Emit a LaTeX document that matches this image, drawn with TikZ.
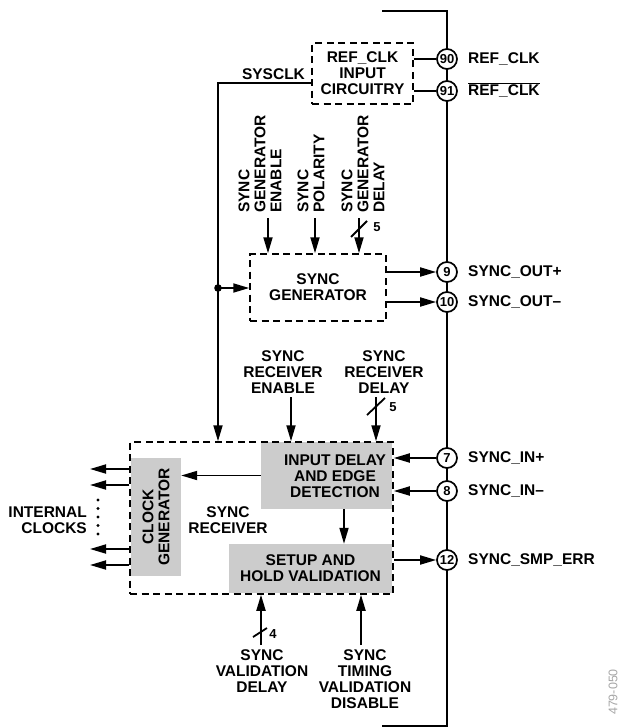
\documentclass[tikz,border=0pt]{standalone}
\usepackage{fontspec}
\setmainfont{Liberation Sans}
\usetikzlibrary{arrows.meta}
\definecolor{boxgray}{RGB}{204,204,204}
\begin{document}
\begin{tikzpicture}[x=1pt,y=-1pt,
  lbl/.style={font=\fontsize{15.5}{16}\selectfont\bfseries, align=center, inner sep=0pt},
  small/.style={font=\fontsize{13}{14}\selectfont\bfseries, inner sep=0pt},
  dbox/.style={draw, line width=1.5pt, dash pattern=on 7pt off 4.5pt},
  gbox/.style={fill=boxgray, inner sep=0pt},
  pin/.style={circle, draw, line width=1.7pt, fill=white, minimum size=20pt, inner sep=0pt, font=\fontsize{13}{13}\selectfont\bfseries},
  wire/.style={line width=1.8pt},
  arr/.style={wire, -{Triangle[length=16pt,width=9pt]}},
  bus/.style={line width=2.8pt},
  rlbl/.style={lbl, rotate=90, anchor=west, align=left},
]
\useasboundingbox (0,0) rectangle (620,728);

% bus
\coordinate (bt0) at (382,11);
\coordinate (bt1) at (447,11);
\coordinate (bb1) at (447,726);
\coordinate (bb0) at (382,726);
\draw[bus] (bt0) -- (bt1) -- (bb1) -- (bb0);

% pins
\node[pin] (p90) at (447,59) {90};
\node[pin] (p91) at (447,91) {91};
\node[pin] (p9) at (447,272) {9};
\node[pin] (p10) at (447,302) {10};
\node[pin] (p7) at (447,458) {7};
\node[pin] (p8) at (447,491) {8};
\node[pin] (p12) at (447,560) {12};

% pin labels
\node[lbl, anchor=base west] (l90) at ([xshift=21pt,yshift=-4pt]p90.center) {REF\_CLK};
\node[lbl, anchor=base west] (l91) at ([xshift=21pt,yshift=-4pt]p91.center) {$\overline{\hbox{REF\_CLK}}$};
\node[lbl, anchor=base west] (l9) at ([xshift=21pt,yshift=-4pt]p9.center) {SYNC\_OUT+};
\node[lbl, anchor=base west] (l10) at ([xshift=21pt,yshift=-4pt]p10.center) {SYNC\_OUT–};
\node[lbl, anchor=base west] (l7) at ([xshift=21pt,yshift=-4pt]p7.center) {SYNC\_IN+};
\node[lbl, anchor=base west] (l8) at ([xshift=21pt,yshift=-4pt]p8.center) {SYNC\_IN–};
\node[lbl, anchor=base west] (l12) at ([xshift=21pt,yshift=-4pt]p12.center) {SYNC\_SMP\_ERR};

% REF_CLK input circuitry
\node[dbox, lbl, minimum width=101pt, minimum height=61pt] (ref) at (362.5,73.5) {REF\_CLK\\INPUT\\CIRCUITRY};
\draw[wire] (ref.east |- p90) -- (p90.west);
\draw[wire] (ref.east |- p91) -- (p91.west);
\node[lbl] (sysclk) at (273.5,74.5) {SYSCLK};

% sync generator
\node[dbox, lbl, minimum width=136pt, minimum height=67pt] (sg) at (318,287.5) {SYNC\\GENERATOR};
\draw[arr] (sg.east |- p9) -- (p9.west);
\draw[arr] (sg.east |- p10) -- (p10.west);

\node[rlbl] (sgen) at (260,213) {SYNC\\GENERATOR\\ENABLE};
\node[rlbl] (spol) at (311,213) {SYNC\\POLARITY};
\node[rlbl] (sgdel) at (363,213) {SYNC\\GENERATOR\\DELAY};
\coordinate (aen) at (268,218);
\coordinate (apol) at (315,218);
\coordinate (adel) at (359,218);
\draw[arr] (aen) -- (aen |- sg.north);
\draw[arr] (apol) -- (apol |- sg.north);
\draw[arr] (adel) -- (adel |- sg.north);
\draw[wire] ([shift={(-8,19)}]adel) -- ([shift={(8,3)}]adel);
\node[small] (n5a) at (377,227) {5};

% sync receiver
\node[gbox, minimum width=131pt, minimum height=67pt] (idet) at (326.5,475.5) {};
\node[lbl] (idett) at (335,476) {INPUT DELAY\\AND EDGE\\DETECTION};
\node[gbox, lbl, minimum width=163pt, minimum height=49pt] (setup) at (310.5,568.5) {SETUP AND\\HOLD VALIDATION};
\node[gbox, minimum width=50pt, minimum height=118pt] (clk) at (156,517) {};
\node[lbl, rotate=90] (clkt) at (156,517) {CLOCK\\GENERATOR};
\node[dbox, minimum width=263pt, minimum height=152pt] (rx) at (261.5,518) {};
\node[lbl] (srx) at (228,520) {SYNC\\RECEIVER};

\draw[arr] (idet.west) -- (idet.west -| clk.east);
\draw[arr] ([xshift=17.5pt]idet.south) -- ([xshift=17.5pt]idet.south |- setup.north);
\draw[arr] (p7.west) -- (p7.west -| rx.east);
\draw[arr] (p8.west) -- (p8.west -| rx.east);
\draw[arr] (rx.east |- p12) -- (p12.west);

% SYSCLK line
\coordinate (sysdot) at (218,288);
\draw[arr] ([yshift=-9.5pt]ref.west) -| (sysdot) -- (sysdot |- rx.north);
\fill (sysdot) circle (3.8pt);
\draw[arr] (sysdot) -- (sysdot -| sg.west);

% receiver controls
\node[lbl] (sre) at (283,372) {SYNC\\RECEIVER\\ENABLE};
\node[lbl] (srd) at (384,372) {SYNC\\RECEIVER\\DELAY};
\coordinate (are) at (291,397);
\coordinate (ard) at (376,397);
\draw[arr] (are) -- (are |- rx.north);
\draw[arr] (ard) -- (ard |- rx.north);
\draw[wire] ([shift={(-9,18)}]ard) -- ([shift={(9,1)}]ard);
\node[small] (n5b) at (393,407) {5};

% internal clocks
\coordinate (o1) at (90,469);
\coordinate (o2) at (90,485);
\coordinate (o3) at (90,549);
\coordinate (o4) at (90,565);
\foreach \o in {o1,o2,o3,o4} \draw[arr] (\o -| rx.west) -- (\o);
\foreach \yy in {500,508.5,517,525.5,534} \fill (98,\yy) circle (1.7pt);
\node[lbl, anchor=east, align=right] (intc) at (87,520) {INTERNAL\\CLOCKS};

% bottom controls
\node[lbl, anchor=north] (svd) at (262,649.5) {SYNC\\VALIDATION\\DELAY};
\node[lbl, anchor=north] (stvd) at (365,649.5) {SYNC\\TIMING\\VALIDATION\\DISABLE};
\coordinate (bA) at (261,645);
\coordinate (bB) at (361,645);
\draw[arr] (bA) -- (bA |- rx.south);
\draw[arr] (bB) -- (bB |- rx.south);
\draw[wire] ([shift={(-8,-8)}]bA) -- ([shift={(6,-17)}]bA);
\node[small] (n4) at (273,634) {4};

% figure number
\node[font=\fontsize{12.5}{12.5}\selectfont, text=gray!70, rotate=90, inner sep=0pt] (fig) at (613,692) {479-050};
\end{tikzpicture}
\end{document}
